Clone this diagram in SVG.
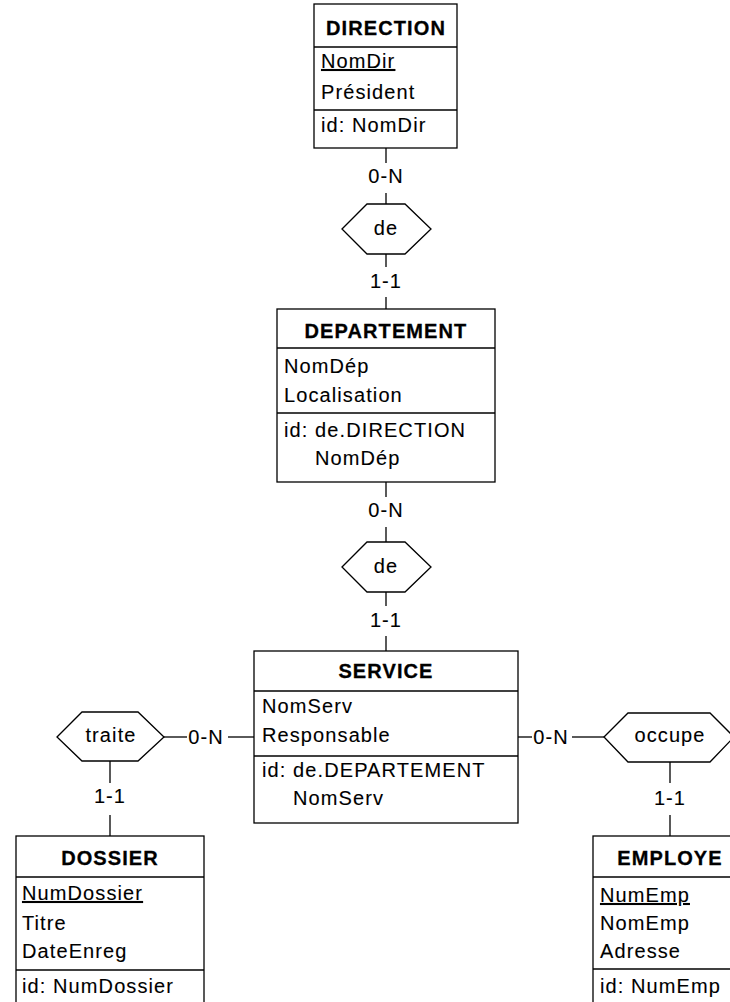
<svg xmlns="http://www.w3.org/2000/svg" width="730" height="1002" viewBox="0 0 730 1002">
<style>
text{font-family:"Liberation Sans",Arial,sans-serif;font-size:20px;letter-spacing:1.1px;fill:#000;stroke:#000;stroke-width:0.1}
.t{font-weight:bold;text-anchor:middle;stroke-width:0.3}
.c{text-anchor:middle}
.u{text-decoration:underline}
.box{fill:#fff;stroke:#000;stroke-width:1.3}
.sep{stroke:#000;stroke-width:1.3}
.hex{fill:#fff;stroke:#000;stroke-width:1.3}
.ln{stroke:#000;stroke-width:1.3;fill:none}
</style>
<rect width="730" height="1002" fill="#fff"/>
<g id="connectors">
<line class="ln" x1="386" y1="148" x2="386" y2="163"/>
<text class="c" x="386" y="183">0-N</text>
<line class="ln" x1="386" y1="193" x2="386" y2="204"/>
<line class="ln" x1="386" y1="254" x2="386" y2="267"/>
<text class="c" x="386" y="288">1-1</text>
<line class="ln" x1="386" y1="297" x2="386" y2="309"/>
<line class="ln" x1="386" y1="482" x2="386" y2="497"/>
<text class="c" x="386" y="517">0-N</text>
<line class="ln" x1="386" y1="527" x2="386" y2="542"/>
<line class="ln" x1="386" y1="592" x2="386" y2="606"/>
<text class="c" x="386" y="627">1-1</text>
<line class="ln" x1="386" y1="636" x2="386" y2="651"/>
<line class="ln" x1="254" y1="737" x2="228" y2="737"/>
<text class="c" x="206" y="744">0-N</text>
<line class="ln" x1="187" y1="737" x2="164" y2="737"/>
<line class="ln" x1="110" y1="761" x2="110" y2="783"/>
<text class="c" x="110" y="803">1-1</text>
<line class="ln" x1="110" y1="815" x2="110" y2="836"/>
<line class="ln" x1="518" y1="737" x2="532" y2="737"/>
<text class="c" x="551" y="744">0-N</text>
<line class="ln" x1="572" y1="737" x2="604" y2="737"/>
<line class="ln" x1="670" y1="762" x2="670" y2="783"/>
<text class="c" x="670" y="805">1-1</text>
<line class="ln" x1="670" y1="815" x2="670" y2="836"/>
</g>
<g id="DIRECTION">
<rect class="box" x="314" y="4" width="143" height="144"/>
<line class="sep" x1="314" y1="47" x2="457" y2="47"/>
<line class="sep" x1="314" y1="110" x2="457" y2="110"/>
<text class="t" x="386" y="35">DIRECTION</text>
<text class="u" x="321" y="68">NomDir</text>
<text x="321" y="99">Président</text>
<text x="321" y="132">id: NomDir</text>
</g>
<g id="de1">
<polygon class="hex" points="342,229 367,204 405,204 431,229 405,254 367,254"/>
<text class="c" x="386" y="235">de</text>
</g>
<g id="DEPARTEMENT">
<rect class="box" x="277" y="309" width="218" height="173"/>
<line class="sep" x1="277" y1="348" x2="495" y2="348"/>
<line class="sep" x1="277" y1="413" x2="495" y2="413"/>
<text class="t" x="386" y="338">DEPARTEMENT</text>
<text x="284" y="373">NomDép</text>
<text x="284" y="402">Localisation</text>
<text x="284" y="437">id: de.DIRECTION</text>
<text x="315" y="465">NomDép</text>
</g>
<g id="de2">
<polygon class="hex" points="342,567 367,542 405,542 431,567 405,592 367,592"/>
<text class="c" x="386" y="573">de</text>
</g>
<g id="SERVICE">
<rect class="box" x="254" y="651" width="264" height="172"/>
<line class="sep" x1="254" y1="691" x2="518" y2="691"/>
<line class="sep" x1="254" y1="756" x2="518" y2="756"/>
<text class="t" x="386" y="678">SERVICE</text>
<text x="262" y="713">NomServ</text>
<text x="262" y="742">Responsable</text>
<text x="262" y="777">id: de.DEPARTEMENT</text>
<text x="293" y="805">NomServ</text>
</g>
<g id="traite">
<polygon class="hex" points="57,737 82,712 138,712 164,737 138,761 82,761"/>
<text class="c" x="111" y="742">traite</text>
</g>
<g id="occupe">
<polygon class="hex" points="604,737 628,713 710,713 734,737 710,762 628,762"/>
<text class="c" x="670" y="742">occupe</text>
</g>
<g id="DOSSIER">
<rect class="box" x="16" y="836" width="188" height="180"/>
<line class="sep" x1="16" y1="877" x2="204" y2="877"/>
<line class="sep" x1="16" y1="970" x2="204" y2="970"/>
<text class="t" x="110" y="865">DOSSIER</text>
<text class="u" x="22" y="900">NumDossier</text>
<text x="22" y="930">Titre</text>
<text x="22" y="958">DateEnreg</text>
<text x="22" y="993">id: NumDossier</text>
</g>
<g id="EMPLOYE">
<rect class="box" x="593" y="836" width="154" height="180"/>
<line class="sep" x1="593" y1="877" x2="747" y2="877"/>
<line class="sep" x1="593" y1="969" x2="747" y2="969"/>
<text class="t" x="670" y="865">EMPLOYE</text>
<text class="u" x="600" y="902">NumEmp</text>
<text x="600" y="930">NomEmp</text>
<text x="600" y="958">Adresse</text>
<text x="600" y="993">id: NumEmp</text>
</g>
</svg>
